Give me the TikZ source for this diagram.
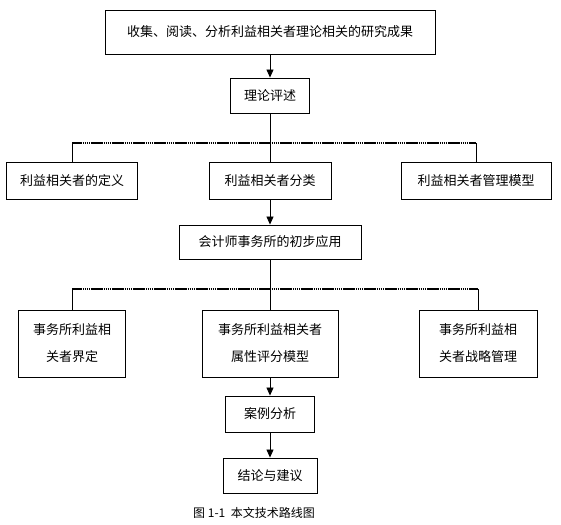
\documentclass[tikz,border=0pt]{standalone}
\usepackage{fontspec}
\setmainfont{Noto Sans CJK SC}
\usetikzlibrary{arrows.meta}
\begin{document}
\begin{tikzpicture}[x=1pt,y=-1pt,
  box/.style={draw, line width=0.9pt, inner sep=0pt, align=center,
    font=\fontsize{13}{27}\selectfont},
  link/.style={line width=0.8pt},
  arr/.style={link, -{Triangle[length=8pt,width=7pt]}},
  hline/.style={line width=1.1pt, dash pattern=on 1.6pt off 0.5pt}]
\useasboundingbox (0,0) rectangle (561,524);

% top part
\node[box, minimum width=330pt, minimum height=44pt] (collect) at (270,32) {收集、阅读、分析利益相关者理论相关的研究成果};
\node[box, minimum width=79pt, minimum height=35pt] (review) at (270,95.5) {理论评述};
\coordinate (fork1) at (270,143);
\node[box, minimum width=131pt, minimum height=37pt] (define) at (72,180.5) {利益相关者的定义};
\node[box, minimum width=122pt, minimum height=37pt] (classify) at (270,180.5) {利益相关者分类};
\node[box, minimum width=150pt, minimum height=37pt] (model) at (476,180.5) {利益相关者管理模型};

% application part
\node[box, minimum width=182pt, minimum height=34pt] (apply) at (270,242) {会计师事务所的初步应用};
\coordinate (fork2) at (270,289);
\node[box, minimum width=107pt, minimum height=67pt] (scope) at (72,343.5) {事务所利益相\\关者界定};
\node[box, minimum width=136pt, minimum height=67pt] (score) at (270,343.5) {事务所利益相关者\\属性评分模型};
\node[box, minimum width=118pt, minimum height=67pt] (strategy) at (478,343.5) {事务所利益相\\关者战略管理};
\node[box, minimum width=89pt, minimum height=36pt] (case) at (270,414) {案例分析};
\node[box, minimum width=94pt, minimum height=35pt] (conclude) at (270,475.5) {结论与建议};

\node[font=\fontsize{12}{14}\selectfont] (caption) at (254,513) {图 1-1\ \ 本文技术路线图};

% connectors
\draw[arr] (collect) -- (review);
\draw[link] (review) -- (classify);
\draw[hline] (define.north |- fork1) -- (model.north |- fork1);
\draw[link] (define.north |- fork1) -- (define.north);
\draw[link] (model.north |- fork1) -- (model.north);
\draw[arr] (classify) -- (apply);
\draw[link] (apply) -- (score);
\draw[hline] (scope.north |- fork2) -- (strategy.north |- fork2);
\draw[link] (scope.north |- fork2) -- (scope.north);
\draw[link] (strategy.north |- fork2) -- (strategy.north);
\draw[arr] (score) -- (case);
\draw[arr] (case) -- (conclude);
\end{tikzpicture}
\end{document}
